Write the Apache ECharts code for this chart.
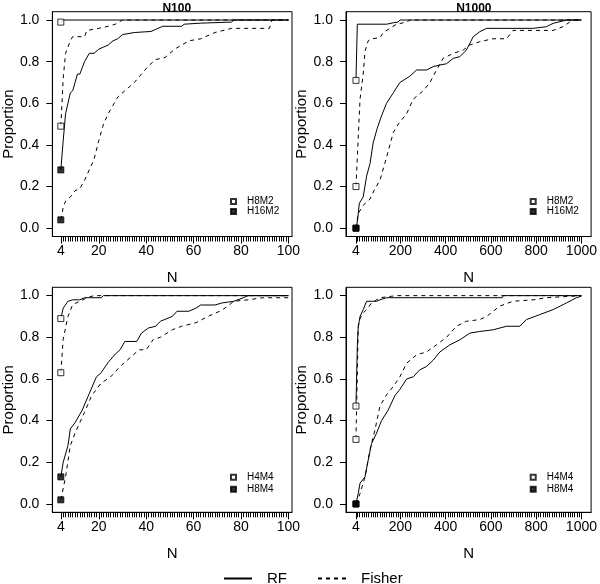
<!DOCTYPE html>
<html><head><meta charset="utf-8">
<script src="https://cdn.jsdelivr.net/npm/echarts@6/dist/echarts.min.js"></script>
<style>html,body{margin:0;padding:0;background:#fff}#c{width:600px;height:584px}</style>
</head><body><div id="c"></div>
<script>
// ---------- Panel titles / legend names ----------
const panelTitles = ['N100', 'N1000', '', ''];
const modelNames = [['H8M2', 'H16M2'], ['H8M2', 'H16M2'], ['H4M4', 'H8M4'], ['H4M4', 'H8M4']];
const methodNames = ['RF', 'Fisher'];

// ---------- Tick labels ----------
const yTickLabels = [0, 0.2, 0.4, 0.6, 0.8, 1.0];
const xTickLabels100 = [4, 20, 40, 60, 80, 100];
const xTickLabels1000 = [4, 200, 400, 600, 800, 1000];

// ---------- Panel 1 (N100, H8M2 / H16M2) ----------
const p1_A_RF_x = [4, 5, 100];
const p1_A_RF_y = [0.99, 1.0, 1.0];
const p1_A_Fi_x = [4, 5, 6, 8, 9, 14, 15, 20, 24, 27, 30, 100];
const p1_A_Fi_y = [0.49, 0.72, 0.84, 0.90, 0.92, 0.92, 0.95, 0.96, 0.97, 0.98, 1.0, 1.0];
const p1_B_RF_x = [4, 5, 6, 7, 8, 9, 10, 11, 12, 13, 14, 16, 18, 20, 22, 24, 26, 28, 30, 35, 42, 44, 47, 55, 56, 63, 76, 77, 100];
const p1_B_RF_y = [0.28, 0.42, 0.55, 0.60, 0.65, 0.66, 0.70, 0.74, 0.74, 0.77, 0.80, 0.84, 0.84, 0.86, 0.87, 0.88, 0.90, 0.91, 0.93, 0.94, 0.945, 0.955, 0.97, 0.97, 0.98, 0.985, 0.99, 1.0, 1.0];
const p1_B_Fi_x = [4, 5, 6, 8, 10, 12, 14, 16, 18, 20, 22, 24, 26, 28, 31, 35, 38, 41, 44, 48, 52, 58, 63, 69, 76, 80, 92, 93, 100];
const p1_B_Fi_y = [0.04, 0.10, 0.13, 0.15, 0.18, 0.19, 0.23, 0.28, 0.33, 0.42, 0.50, 0.55, 0.59, 0.63, 0.66, 0.70, 0.74, 0.78, 0.81, 0.82, 0.86, 0.90, 0.91, 0.94, 0.96, 0.96, 0.96, 1.0, 1.0];

// ---------- Panel 2 (N1000, H8M2 / H16M2) ----------
const p2_A_RF_x = [4, 10, 140, 170, 190, 198, 1000];
const p2_A_RF_y = [0.71, 0.98, 0.98, 0.987, 0.99, 1.0, 1.0];
const p2_A_Fi_x = [4, 22, 36, 44, 58, 73, 110, 125, 154, 183, 228, 242, 1000];
const p2_A_Fi_y = [0.20, 0.62, 0.74, 0.85, 0.90, 0.91, 0.915, 0.94, 0.96, 0.98, 0.99, 1.0, 1.0];
const p2_B_RF_x = [4, 10, 19, 36, 51, 66, 80, 98, 117, 139, 169, 198, 242, 272, 316, 345, 375, 404, 434, 463, 492, 522, 551, 581, 640, 787, 845, 875, 934, 1000];
const p2_B_RF_y = [0.0, 0.03, 0.12, 0.15, 0.25, 0.31, 0.41, 0.48, 0.54, 0.60, 0.65, 0.70, 0.73, 0.76, 0.76, 0.776, 0.784, 0.79, 0.816, 0.824, 0.856, 0.92, 0.944, 0.96, 0.96, 0.96, 0.968, 0.984, 1.0, 1.0];
const p2_B_Fi_x = [4, 14, 36, 66, 88, 110, 139, 169, 191, 228, 257, 301, 331, 360, 389, 434, 478, 507, 551, 610, 669, 698, 875, 919, 948, 963, 1000];
const p2_B_Fi_y = [0.0, 0.07, 0.11, 0.14, 0.19, 0.23, 0.34, 0.46, 0.50, 0.55, 0.62, 0.66, 0.70, 0.76, 0.816, 0.84, 0.856, 0.88, 0.896, 0.91, 0.91, 0.95, 0.95, 0.968, 0.99, 1.0, 1.0];

// ---------- Panel 3 (N100, H4M4 / H8M4) ----------
const p3_A_RF_x = [4, 5, 7, 9, 12, 14, 21, 22, 100];
const p3_A_RF_y = [0.89, 0.94, 0.973, 0.98, 0.98, 0.99, 0.99, 1.0, 1.0];
const p3_A_Fi_x = [4, 5, 7, 9, 12, 15, 18, 100];
const p3_A_Fi_y = [0.63, 0.79, 0.90, 0.957, 0.973, 0.99, 1.0, 1.0];
const p3_B_RF_x = [4, 5, 7, 8, 10, 13, 16, 19, 21, 24, 27, 29, 31, 36, 38, 41, 44, 46, 51, 53, 58, 61, 63, 69, 72, 77, 81, 83, 100];
const p3_B_RF_y = [0.13, 0.20, 0.28, 0.36, 0.39, 0.45, 0.53, 0.61, 0.63, 0.68, 0.72, 0.74, 0.78, 0.78, 0.82, 0.845, 0.853, 0.877, 0.90, 0.925, 0.925, 0.94, 0.955, 0.955, 0.965, 0.973, 0.99, 1.0, 1.0];
const p3_B_Fi_x = [4, 6, 8, 10, 14, 17, 21, 25, 29, 34, 37, 40, 43, 46, 51, 55, 61, 66, 72, 77, 83, 89, 100];
const p3_B_Fi_y = [0.02, 0.13, 0.28, 0.34, 0.44, 0.52, 0.58, 0.61, 0.66, 0.71, 0.74, 0.74, 0.79, 0.80, 0.836, 0.853, 0.87, 0.90, 0.93, 0.973, 0.98, 0.99, 0.99];

// ---------- Panel 4 (N1000, H4M4 / H8M4) ----------
const p4_A_RF_x = [4, 10, 14, 22, 36, 51, 95, 110, 139, 650, 655, 1000];
const p4_A_RF_y = [0.47, 0.756, 0.85, 0.90, 0.933, 0.973, 0.973, 0.98, 0.99, 0.99, 1.0, 1.0];
const p4_A_Fi_x = [4, 14, 22, 36, 51, 73, 110, 183, 1000];
const p4_A_Fi_y = [0.31, 0.85, 0.89, 0.917, 0.933, 0.965, 0.99, 1.0, 1.0];
const p4_B_RF_x = [4, 14, 22, 44, 58, 73, 95, 117, 146, 176, 198, 228, 257, 286, 316, 345, 375, 419, 463, 507, 551, 610, 669, 728, 757, 816, 875, 934, 978, 1000];
const p4_B_RF_y = [0.0, 0.05, 0.10, 0.13, 0.21, 0.29, 0.34, 0.40, 0.45, 0.52, 0.55, 0.60, 0.61, 0.644, 0.66, 0.69, 0.73, 0.764, 0.788, 0.82, 0.828, 0.836, 0.853, 0.853, 0.885, 0.909, 0.933, 0.965, 0.99, 0.997];
const p4_B_Fi_x = [4, 22, 44, 66, 88, 110, 139, 169, 198, 228, 272, 316, 360, 404, 448, 492, 551, 581, 640, 698, 787, 845, 1000];
const p4_B_Fi_y = [0.0, 0.05, 0.13, 0.26, 0.356, 0.47, 0.524, 0.564, 0.61, 0.676, 0.716, 0.73, 0.764, 0.80, 0.853, 0.877, 0.885, 0.90, 0.95, 0.973, 0.98, 0.99, 1.0];

// ---------- Build chart ----------
const FONT = 'Liberation Sans, Arial, Helvetica, sans-serif';
const panels = [
  { curves: [[p1_A_RF_x, p1_A_RF_y], [p1_A_Fi_x, p1_A_Fi_y], [p1_B_RF_x, p1_B_RF_y], [p1_B_Fi_x, p1_B_Fi_y]], big: false },
  { curves: [[p2_A_RF_x, p2_A_RF_y], [p2_A_Fi_x, p2_A_Fi_y], [p2_B_RF_x, p2_B_RF_y], [p2_B_Fi_x, p2_B_Fi_y]], big: true },
  { curves: [[p3_A_RF_x, p3_A_RF_y], [p3_A_Fi_x, p3_A_Fi_y], [p3_B_RF_x, p3_B_RF_y], [p3_B_Fi_x, p3_B_Fi_y]], big: false },
  { curves: [[p4_A_RF_x, p4_A_RF_y], [p4_A_Fi_x, p4_A_Fi_y], [p4_B_RF_x, p4_B_RF_y], [p4_B_Fi_x, p4_B_Fi_y]], big: true }
];
const gridBoxes = [
  { left: 51.5, top: 11.7, width: 240.5, height: 224.8 },
  { left: 346, top: 11.7, width: 245.7, height: 224.8 },
  { left: 51.5, top: 287.3, width: 240.5, height: 225 },
  { left: 346, top: 287.3, width: 245.7, height: 225 }
];
const minor100 = []; for (let v = 4; v <= 100; v++) minor100.push(v);
const minor1000 = [4]; for (let v = 10; v <= 1000; v += 10) minor1000.push(v);

const grid = [], xAxis = [], yAxis = [], series = [], legend = [], title = [];
panels.forEach((p, i) => {
  const g = gridBoxes[i];
  grid.push(Object.assign({ show: true, borderColor: '#000', borderWidth: 1, backgroundColor: '#fff', containLabel: false }, g));
  const xmin = p.big ? -40 : 0.43, xmax = p.big ? 1042.7 : 101.5;
  const labels = p.big ? xTickLabels1000 : xTickLabels100;
  xAxis.push({
    type: 'value', gridIndex: i, min: xmin, max: xmax, position: 'bottom',
    name: 'N', nameLocation: 'middle', nameGap: 34,
    nameTextStyle: { fontSize: 15, color: '#000', fontFamily: FONT },
    axisLine: { show: true, onZero: false, lineStyle: { color: '#000', width: 1 } },
    axisTick: { show: true, length: 7, customValues: labels, lineStyle: { color: '#000' } },
    axisLabel: { show: true, customValues: labels, margin: 8, fontSize: 14, color: '#000', fontFamily: FONT,
      formatter: v => String(v) },
    splitLine: { show: false }
  });
  xAxis.push({
    type: 'value', gridIndex: i, min: xmin, max: xmax, position: 'bottom', offset: 0,
    axisLine: { show: false, onZero: false },
    axisTick: { show: true, length: 5, customValues: p.big ? minor1000 : minor100, lineStyle: { color: '#000', width: 1 } },
    axisLabel: { show: false },
    splitLine: { show: false }
  });
  yAxis.push({
    type: 'value', gridIndex: i, min: -0.04, max: 1.04,
    name: 'Proportion', nameLocation: 'middle', nameGap: 35,
    nameTextStyle: { fontSize: 15, color: '#000', fontFamily: FONT },
    axisLine: { show: true, onZero: false, lineStyle: { color: '#000', width: 1 } },
    axisTick: { show: true, length: 6, customValues: yTickLabels, lineStyle: { color: '#000' } },
    axisLabel: { show: true, customValues: yTickLabels, margin: 13, fontSize: 14, color: '#000', fontFamily: FONT,
      formatter: v => v.toFixed(1) },
    splitLine: { show: false }
  });
  const xi = i * 2;
  p.curves.forEach((c, k) => {
    const isRF = (k % 2 === 0);
    series.push({
      type: 'line', name: isRF ? 'RF' : 'Fisher', xAxisIndex: xi, yAxisIndex: i,
      data: c[0].map((x, j) => [x, c[1][j]]),
      symbol: 'none', showSymbol: false, animation: false, silent: true, clip: true,
      lineStyle: { color: '#000', width: 1, type: isRF ? 'solid' : [4, 4] },
      itemStyle: { color: '#000' }, z: 2
    });
  });
  // markers at start of curves (x = 4)
  [0, 1].forEach(m => {
    const cs = [p.curves[m * 2], p.curves[m * 2 + 1]];
    series.push({
      type: 'scatter', name: modelNames[i][m], xAxisIndex: xi, yAxisIndex: i,
      data: cs.map(c => [c[0][0], c[1][0]]),
      symbol: 'rect', symbolSize: 6, animation: false, silent: true, z: 5,
      itemStyle: m === 0 ? { color: '#fff', borderColor: '#000', borderWidth: 1 } : { color: '#000', borderColor: '#000', borderWidth: 1 }
    });
  });
  legend.push({
    data: modelNames[i].map(n => ({ name: n, icon: 'rect' })),
    orient: 'vertical', left: g.left + g.width - 67, top: g.top + g.height - 45,
    itemWidth: 5, itemHeight: 5, itemGap: i < 2 ? 0 : 2, selectedMode: false,
    textStyle: { fontSize: 10, color: '#000', fontFamily: FONT, padding: [0, 0, 0, 6] }
  });
  if (panelTitles[i]) {
    title.push({ text: panelTitles[i], left: g.left + g.width / 2, top: -2, textAlign: 'center',
      textStyle: { fontSize: 12, fontWeight: 'bold', color: '#000', fontFamily: FONT } });
  }
});
legend.push({
  data: methodNames, left: 218, top: 566, itemWidth: 28, itemHeight: 10, itemGap: 30, selectedMode: false,
  itemStyle: { color: 'rgba(0,0,0,0)', borderWidth: 0, opacity: 0 },
  textStyle: { fontSize: 15, color: '#000', fontFamily: FONT, padding: [0, 0, 0, 10] }
});

const chart = echarts.init(document.getElementById('c'), null, { renderer: 'canvas' });
chart.setOption({ animation: false, backgroundColor: '#fff', title, grid, xAxis, yAxis, legend, series });
</script></body></html>
